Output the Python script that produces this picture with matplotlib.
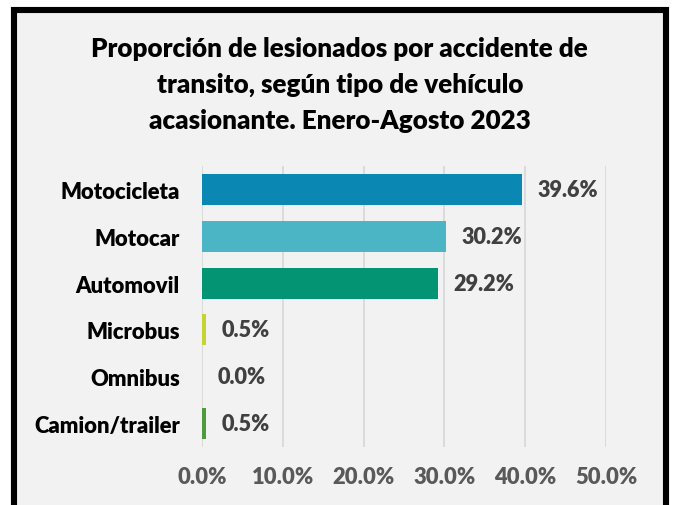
import matplotlib.pyplot as plt
from matplotlib.patches import Rectangle
from matplotlib.ticker import FuncFormatter

plt.rcParams['font.family'] = ['Lato', 'DejaVu Sans']

categorias = ['Motocicleta', 'Motocar', 'Automovil', 'Microbus', 'Omnibus', 'Camion/trailer']
valores = [39.6, 30.2, 29.2, 0.5, 0.0, 0.5]
colores = ['#0a87b2', '#4bb5c5', '#039474', '#c5d333', '#7a9fd0', '#4f9a3a']
titulo = ('Proporción de lesionados por accidente de\n'
          'transito, según tipo de vehículo\n'
          'acasionante. Enero-Agosto 2023')
peso = 'heavy'

fig = plt.figure(figsize=(6.73, 5.06), dpi=100)
fig.patch.set_facecolor('white')
fig.patches.append(Rectangle((14 / 673, -0.1), 652 / 673, 1.1 - 11 / 506,
                             transform=fig.transFigure, facecolor='#f2f2f2',
                             edgecolor='black', linewidth=4.4, zorder=-1))

ax = fig.add_axes([202 / 673, 1 - 448 / 506, 404 / 673, 281 / 506])
ax.set_zorder(1)
ax.set_facecolor('none')
y = list(range(len(categorias)))
ax.barh(y, valores, height=0.66, color=colores, zorder=2)
ax.set_xlim(0, 50)
ax.set_ylim(len(categorias) - 0.5, -0.5)
ax.set_yticks(y)
ax.set_yticklabels(categorias, fontsize=15.8, fontweight=peso, color='black')
ax.set_xticks([0, 10, 20, 30, 40, 50])
ax.xaxis.set_major_formatter(FuncFormatter(lambda v, p: f'{v:.1f}%'))
for lab in ax.get_xticklabels():
    lab.set_fontweight(peso)
ax.tick_params(axis='x', length=0, pad=14, labelsize=15.8, labelcolor='#595959')
ax.tick_params(axis='y', length=0, pad=16)
ax.grid(axis='x', color='#d9d9d9', linewidth=1.3, zorder=0)
for s in ax.spines.values():
    s.set_visible(False)

for yi, v in zip(y, valores):
    ax.annotate(f'{v:.1f}%', (v, yi), xytext=(11, 0), textcoords='offset points',
                va='center', ha='left', fontsize=15.6, fontweight=peso, color='#404040')

fig.text(0.505, 1 - 85 / 506, titulo, ha='center', va='center', fontsize=18.7,
         fontweight=peso, linespacing=1.6)

fig.savefig('out.png', dpi=100)
